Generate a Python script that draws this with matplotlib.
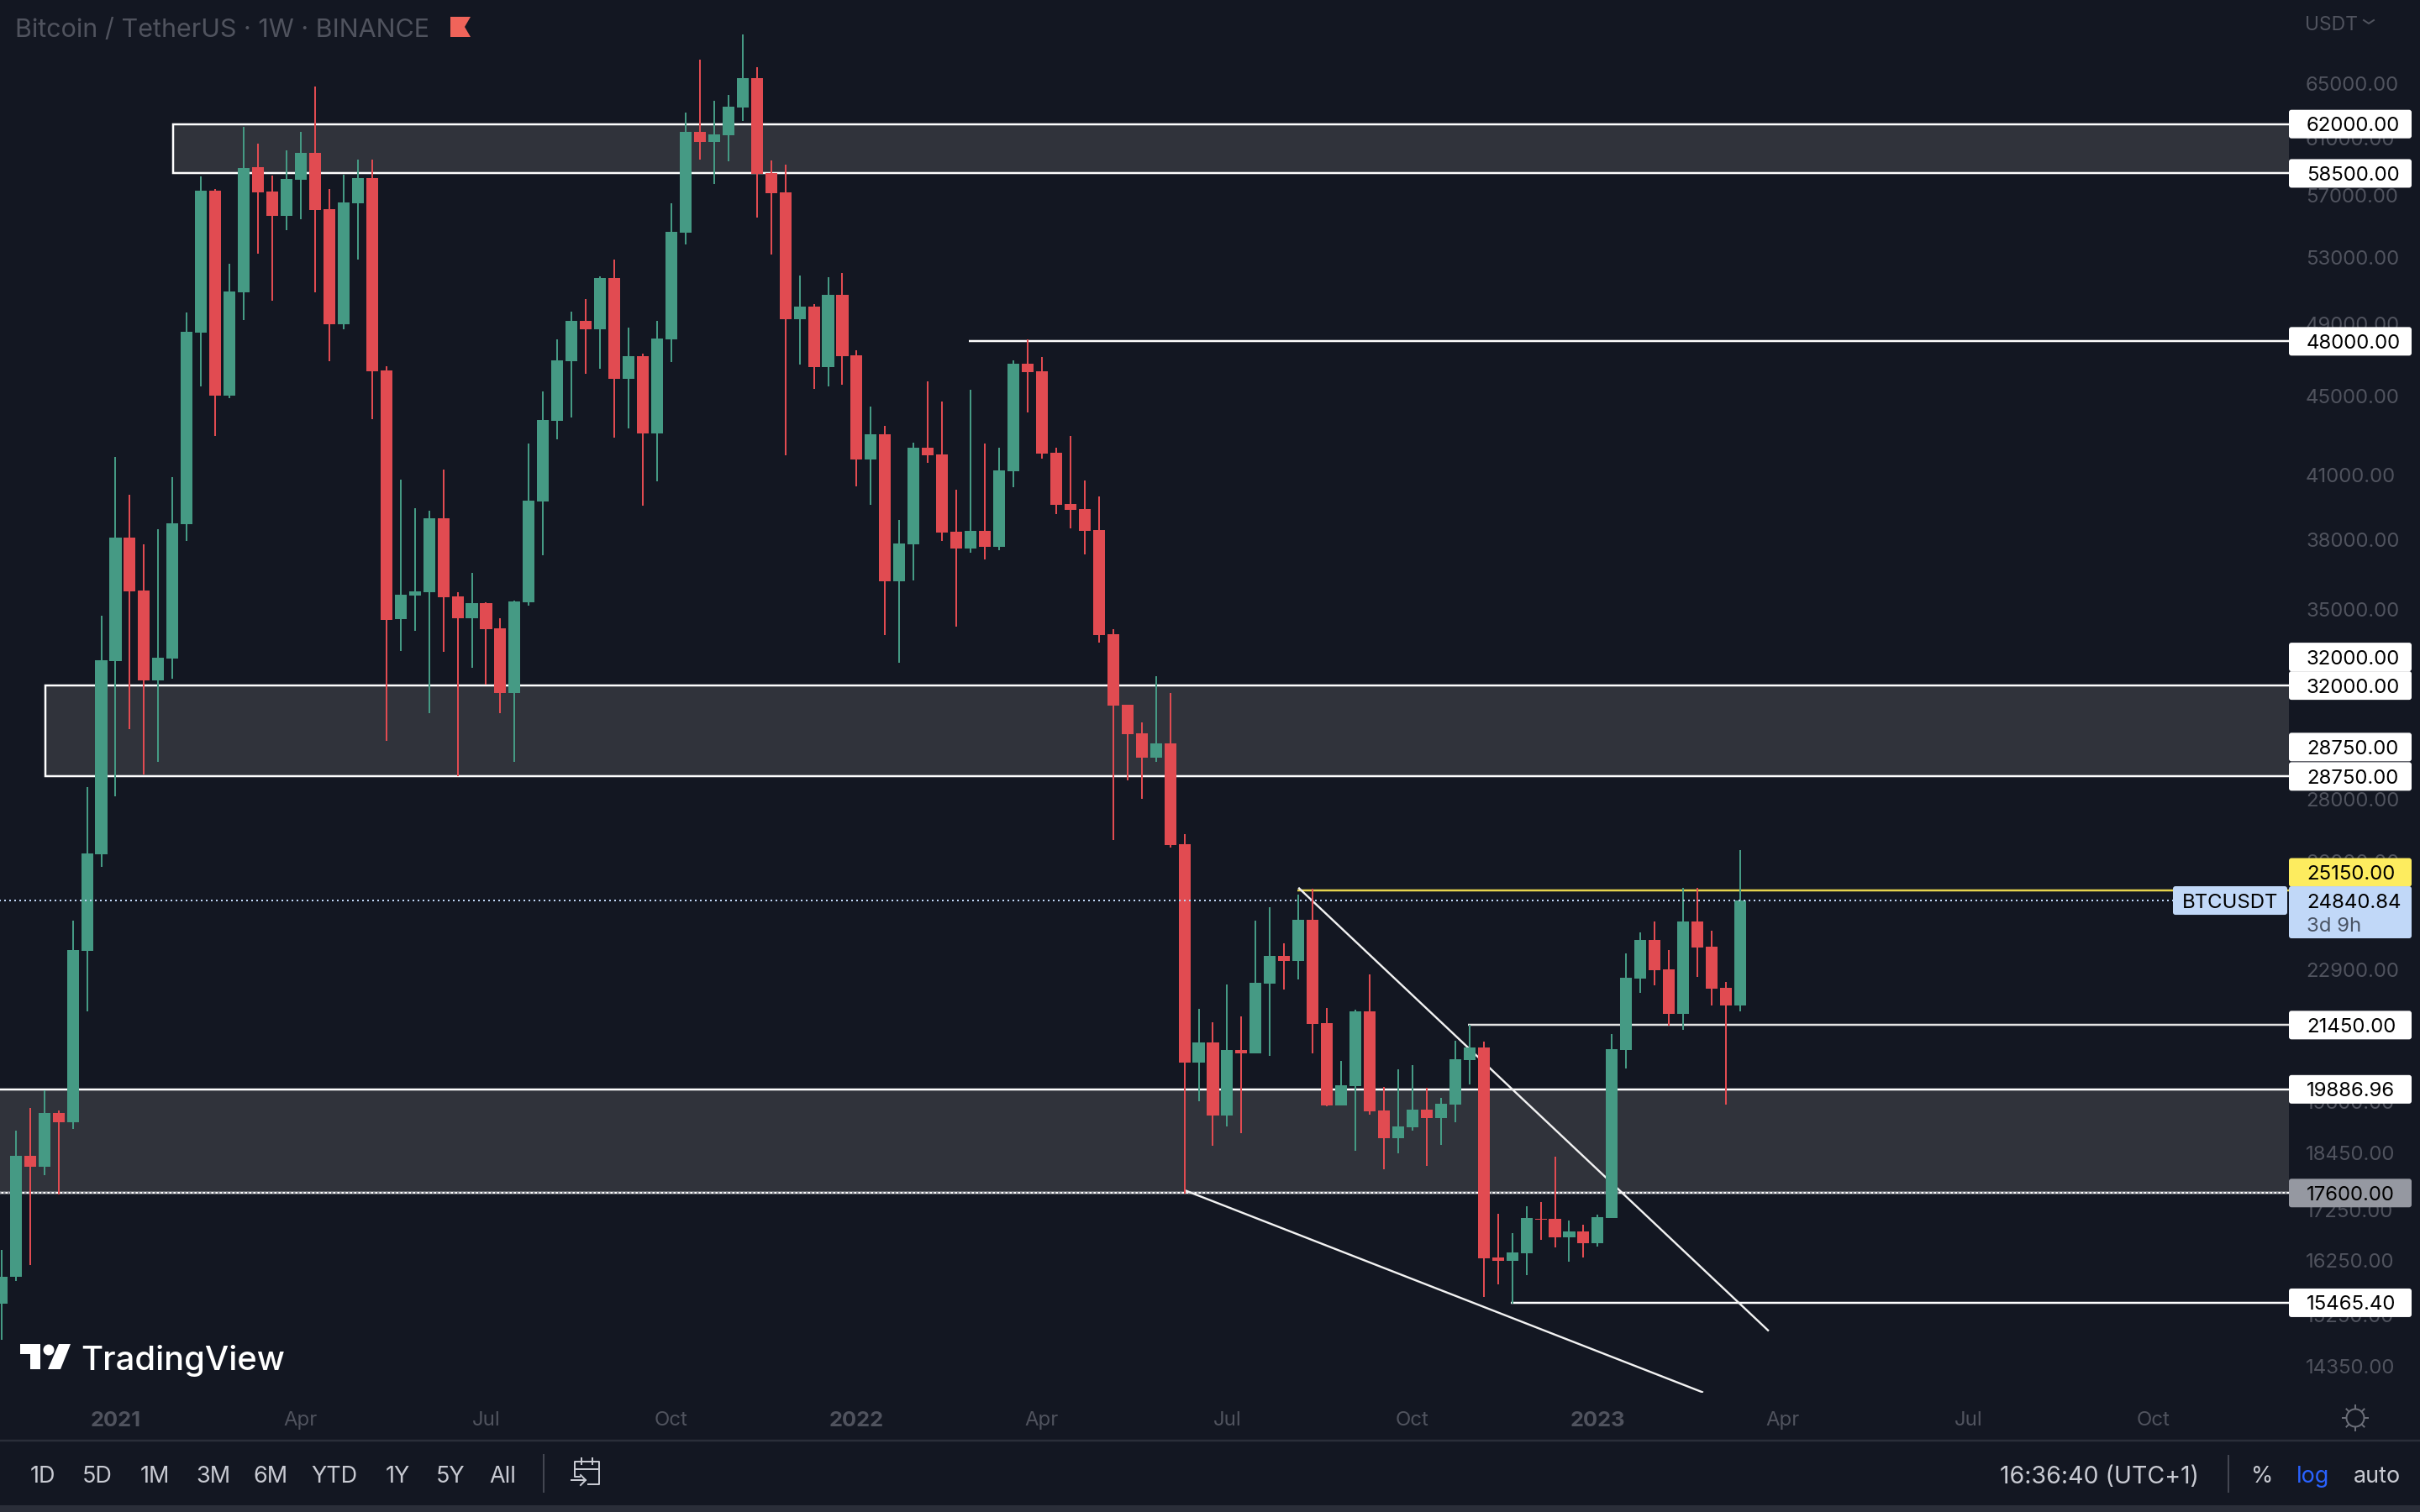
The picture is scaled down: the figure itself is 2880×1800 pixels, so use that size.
import matplotlib
matplotlib.use("Agg")
import matplotlib.pyplot as plt
from matplotlib.patches import Rectangle, Polygon, Circle, FancyBboxPatch
from matplotlib.ticker import NullLocator

plt.rcParams["font.family"] = ["Inter", "DejaVu Sans"]

W, H, DPI = 2880, 1800, 200
PT = 72 / DPI  # one screen pixel in points

BG = "#131722"
GREEN, RED = "#459a84", "#e14b51"
ZONE = "#30333b"
DIM = "#50535e"
TAG_BLUE = "#c1d8f8"

# weekly candles, BTCUSDT
opens = [15454, 15940, 18390, 18158, 19341, 19135, 23414, 26233, 32942, 38101, 35799, 32202, 33039, 38700, 48508,
         57327, 45023, 50868, 58949, 57271, 55659, 58073, 59941, 56103, 48987, 56493, 58189, 46394, 34614, 35585,
         35728, 38973, 35549, 34648, 35265, 34241, 31721, 35301, 39759, 43721, 46896, 49178, 48699, 51723, 45938,
         47167, 43070, 48125, 54560, 61451, 60719, 61207, 63206, 65470, 58540, 57215, 49274, 50015, 46577, 50717,
         47214, 41775, 43027, 36191, 37802, 42353, 42023, 38363, 37615, 38400, 37690, 41197, 46759, 46349, 42105,
         39641, 39405, 38438, 34004, 31291, 30248, 29401, 29898, 26552, 20526, 21023, 19285, 20837, 20754, 22525,
         23277, 23140, 24290, 21503, 19516, 19969, 21807, 19399, 18780, 19023, 19418, 19229, 19535, 20588, 20899,
         16318, 16254, 16399, 17078, 17078, 16704, 16823, 16591, 17095, 20837, 22661, 23714, 22912, 21742, 24242,
         23528, 22415, 21959]
highs = [16463, 18948, 19456, 19870, 19397, 24266, 28399, 34750, 41899, 40074, 37802, 38475, 40908, 49657, 58306,
         57438, 52602, 61817, 60584, 58365, 60117, 61451, 64822, 57438, 58423, 59474, 59474, 46622, 40783, 39445,
         39327, 41280, 35728, 36547, 35300, 34648, 35372, 42560, 45254, 48125, 49705, 50466, 51824, 52866, 48795,
         47310, 49178, 56493, 62868, 66920, 63702, 64179, 68920, 66310, 59416, 59124, 51874, 50165, 51774, 52028,
         47502, 44459, 43460, 38895, 42601, 45801, 44719, 40310, 45345, 42560, 42353, 46941, 48125, 47119, 42353,
         42940, 40743, 39995, 34207, 31291, 30647, 32363, 31721, 26870, 21872, 21525, 22502, 21677, 24266, 24650,
         23620, 25018, 25194, 21894, 20567, 21850, 22775, 19949, 20360, 20464, 19929, 19693, 21064, 21460, 21044,
         17180, 16789, 17320, 17409, 18372, 17044, 16959, 17163, 21230, 23345, 23930, 24242, 23437, 25219, 25219,
         23978, 22570, 26366]
lows = [14811, 15862, 16173, 17980, 17563, 18986, 21807, 25849, 28093, 30401, 28817, 29241, 32266, 37952, 45528,
        42940, 44893, 49226, 53236, 50365, 54718, 55436, 50868, 46896, 48699, 52866, 43808, 29985, 33329, 34139,
        30984, 33296, 28760, 32685, 32040, 30984, 29255, 35158, 37316, 42776, 43894, 46212, 46485, 42862, 43330,
        39563, 40702, 46850, 53818, 59474, 57771, 59357, 62246, 55547, 53184, 41982, 46712, 45391, 45528, 45619,
        40467, 39602, 33970, 32878, 36226, 41610, 37952, 34309, 37428, 37130, 37540, 40427, 44155, 41817, 39170,
        38513, 37353, 33665, 26684, 28621, 28010, 29255, 26446, 17589, 19614, 18612, 19042, 18892, 20754, 20692,
        22371, 22639, 20754, 19497, 19516, 18500, 19302, 18105, 18443, 18948, 18176, 18630, 19135, 20008, 15578,
        15809, 15454, 15979, 16656, 16511, 16238, 16318, 16527, 17095, 20381, 22285, 22480, 21438, 21333, 22707,
        21959, 19535, 21807]
closes = [15948, 18390, 18158, 19341, 19135, 23437, 26260, 32974, 38101, 35763, 32202, 33071, 38737, 48556, 57327,
          45023, 50918, 58890, 57215, 55659, 58131, 59941, 56048, 48987, 56548, 58189, 46349, 34580, 35621, 35763,
          38973, 35514, 34648, 35265, 34207, 31721, 35336, 39799, 43764, 46941, 49178, 48699, 51723, 45938, 47167,
          43070, 48173, 54612, 61451, 60719, 61268, 63268, 65470, 58482, 57160, 49274, 50015, 46577, 50717, 47167,
          41775, 43027, 36191, 37839, 42353, 41982, 38326, 37615, 38400, 37690, 41238, 46759, 46303, 42064, 39602,
          39366, 38400, 33970, 31261, 30217, 29401, 29898, 26525, 20526, 21023, 19285, 20837, 20754, 22547, 23277,
          23140, 24290, 21481, 19516, 19988, 21807, 19379, 18780, 19042, 19418, 19229, 19555, 20609, 20899, 16302,
          16254, 16415, 17095, 17061, 16704, 16823, 16591, 17112, 20857, 22684, 23714, 22889, 21742, 24242, 23505,
          22393, 21959, 24840.84]

# price axis
price_ticks = [65000, 61000, 57000, 53000, 49000, 45000, 41000, 38000, 35000, 28000, 26000, 22900, 19600,
               18450, 17250, 16250, 15250, 14350]
# week index of each time axis label
time_ticks = [8, 21, 34, 47, 60, 73, 86, 99, 112, 125, 138, 151]
time_labels = ["2021", "Apr", "Jul", "Oct", "2022", "Apr", "Jul", "Oct", "2023", "Apr", "Jul", "Oct"]

# drawings: (first week, upper price, lower price)
zones = [(12, 62000, 58500), (3, 32000, 28750), (-2, 19886.96, 17600)]
# horizontal levels: (first week, price, colour)
levels = [(68, 48000, "white"), (91, 25150, "#e6d34e"), (103, 21450, "#e4e4e4"), (106, 15465.4, "white")]
trend_x = [(91, 124), (83, 119.4)]
trend_y = [(25219, 14960), (17660, 13915)]

# price tags: (price, text, background, shift in px)
tags = [(62000, "62000.00", "white", 0), (58500, "58500.00", "white", 0), (48000, "48000.00", "white", 0),
        (32000, "32000.00", "white", -34), (32000, "32000.00", "white", 0),
        (28750, "28750.00", "white", -35), (28750, "28750.00", "white", 0),
        (25150, "25150.00", "#fdec5f", -21),
        (21450, "21450.00", "white", 0), (19886.96, "19886.96", "white", 0),
        (17600, "17600.00", "#9598a1", 0), (15465.4, "15465.40", "white", 0)]

periods = ["1D", "5D", "1M", "3M", "6M", "YTD", "1Y", "5Y", "All"]
period_x = [51, 116, 184, 254, 322, 398, 473, 536, 598]

fig = plt.figure(figsize=(W / DPI, H / DPI), dpi=DPI, facecolor=BG)

# --- chart pane, log price scale ---
ax = fig.add_axes([0, (H - 1657.7) / H, 2724 / W, 1657 / H], facecolor=BG)
ax.set_yscale("log")
ax.set_xlim(-0.106, 160.5)
ax.set_ylim(13915, 71708)
ax.yaxis.tick_right()
ax.set_yticks(price_ticks, [f"{p:.2f}" for p in price_ticks], fontsize=24 * PT, color=DIM)
ax.yaxis.set_minor_locator(NullLocator())
ax.set_xticks(time_ticks, time_labels, fontsize=24 * PT, color=DIM)
for lab in ax.get_xticklabels():
    if lab.get_text().startswith("20"):
        lab.set_fontweight("bold")
        lab.set_fontsize(25.5 * PT)
ax.tick_params(axis="y", length=0, pad=20 * PT, which="both")
ax.tick_params(axis="x", length=0, pad=22 * PT)
for s in ax.spines.values():
    s.set_visible(False)

for x0, top, bot in zones:
    ax.add_patch(Rectangle((x0 + 0.05, bot), 170, top - bot, facecolor=ZONE, edgecolor="white",
                           lw=2.5 * PT, zorder=1))
ax.plot([-1, 170], [17600, 17600], color="#8a8d96", lw=2.5 * PT, ls=(0, (1, 1)), zorder=1.5)

for x0, price, col in levels:
    ax.plot([x0 - 0.1, 170], [price, price], color=col, lw=2.5 * PT, zorder=2, solid_capstyle="butt")
for xs, ys in zip(trend_x, trend_y):
    ax.plot(xs, ys, color="#f2f2f2", lw=2.4 * PT, zorder=2, solid_capstyle="butt")

weeks = list(range(len(opens)))
colors = [GREEN if c >= o else RED for o, c in zip(opens, closes)]
ax.vlines(weeks, lows, highs, colors=colors, lw=2 * PT, zorder=3)
ax.bar(weeks, [max(abs(c - o), 8) for o, c in zip(opens, closes)],
       bottom=[min(o, c) for o, c in zip(opens, closes)], width=0.83, color=colors, zorder=3.1, lw=0)

# last price, dotted
ax.plot([-1, 152.5], [closes[-1], closes[-1]], color=TAG_BLUE, lw=2 * PT, ls=(0, (1, 2)), zorder=4)

# --- overlay in screen pixels for labels and toolbars ---
ov = fig.add_axes([0, 0, 1, 1], zorder=5)
ov.set_xlim(0, W)
ov.set_ylim(H, 0)
ov.axis("off")


def price_y(price):
    return H - ax.transData.transform((0, price))[1]


def tag_box(x0, x1, y0, y1, col):
    ov.add_patch(FancyBboxPatch((x0 + 2, y0 + 2), x1 - x0 - 4, y1 - y0 - 4, boxstyle="round,pad=2,rounding_size=3",
                                fc=col, ec="none"))


for price, text, bg, shift in tags:
    y = price_y(price) + shift
    tag_box(2724, 2870, y - 17, y + 17, bg)
    ov.text(2745, y, text, fontsize=24 * PT, color="black", va="center_baseline", ha="left")

# current price tag
y_last = price_y(closes[-1])
tag_box(2724, 2870, y_last - 17, y_last + 45, TAG_BLUE)
ov.text(2745, y_last, "24840.84", fontsize=24 * PT, color="black", va="center_baseline", ha="left")
ov.text(2745, y_last + 28, "3d 9h", fontsize=24 * PT, color="#4a5464", va="center_baseline", ha="left")
tag_box(2586, 2722, y_last - 17, y_last + 17, TAG_BLUE)
ov.text(2654, y_last, "BTCUSDT", fontsize=24 * PT, color="black", va="center_baseline", ha="center")

# header
ov.text(18, 33, "Bitcoin / TetherUS · 1W · BINANCE", fontsize=30.5 * PT, color=DIM, va="center_baseline", ha="left")
ov.add_patch(Polygon([(536, 20), (560, 20), (553, 32), (560, 44), (536, 44)], fc="#f0645a", ec="none"))
ov.text(2743, 27, "USDT", fontsize=23 * PT, color=DIM, va="center_baseline", ha="left")
ov.plot([2813, 2819, 2825], [24, 28, 24], color=DIM, lw=2 * PT)

# TradingView logo
ov.add_patch(Polygon([(24, 1600), (48, 1600), (48, 1630), (36, 1630), (36, 1612), (24, 1612)], fc="white", ec="none"))
ov.add_patch(Circle((58, 1607), 6.5, fc="white", ec="none"))
ov.add_patch(Polygon([(70, 1600), (84, 1600), (72, 1630), (57, 1630)], fc="white", ec="none"))
ov.text(96, 1616, "TradingView", fontsize=40 * PT, color="white", va="center_baseline", ha="left", fontweight="medium")

# settings icon
ov.add_patch(Circle((2803, 1688), 10.5, fc="none", ec="#6b6e78", lw=2 * PT))
for dx, dy in [(0, -1), (0, 1), (1, 0), (-1, 0), (0.7, 0.7), (-0.7, 0.7), (0.7, -0.7), (-0.7, -0.7)]:
    ov.plot([2803 + 11 * dx, 2803 + 15 * dx], [1688 + 11 * dy, 1688 + 15 * dy], color="#6b6e78", lw=2 * PT)

# bottom toolbar
ov.plot([0, W], [1715, 1715], color="#2a2e39", lw=2.5 * PT)
ov.add_patch(Rectangle((0, 1792), W, 8, fc="#2a2e39", ec="none"))
for name, x in zip(periods, period_x):
    ov.text(x, 1755, name, fontsize=27 * PT, color="#c8cad2", va="center_baseline", ha="center")
ov.plot([647, 647], [1732, 1776], color="#434651", lw=2 * PT)
ov.plot([690, 684, 684, 713, 713, 700], [1758, 1758, 1740, 1740, 1767, 1767], color="#c8cad2", lw=2 * PT)
ov.plot([684, 713], [1749, 1749], color="#c8cad2", lw=2 * PT)
ov.plot([692, 692], [1736, 1743], color="#c8cad2", lw=2 * PT)
ov.plot([705, 705], [1736, 1743], color="#c8cad2", lw=2 * PT)
ov.plot([680, 697], [1762, 1762], color="#c8cad2", lw=2 * PT)
ov.plot([691, 697, 691], [1756, 1762, 1768], color="#c8cad2", lw=2 * PT)

ov.text(2498, 1755, "16:36:40 (UTC+1)", fontsize=28.5 * PT, color="#c8cad2", va="center_baseline", ha="center")
ov.plot([2652, 2652], [1733, 1776], color="#434651", lw=2 * PT)
ov.text(2692, 1755, "%", fontsize=27 * PT, color="#c8cad2", va="center_baseline", ha="center")
ov.text(2753, 1755, "log", fontsize=27 * PT, color="#2962ff", va="center_baseline", ha="center")
ov.text(2829, 1755, "auto", fontsize=27 * PT, color="#c8cad2", va="center_baseline", ha="center")

fig.savefig("out.png", dpi=DPI, facecolor=BG)
